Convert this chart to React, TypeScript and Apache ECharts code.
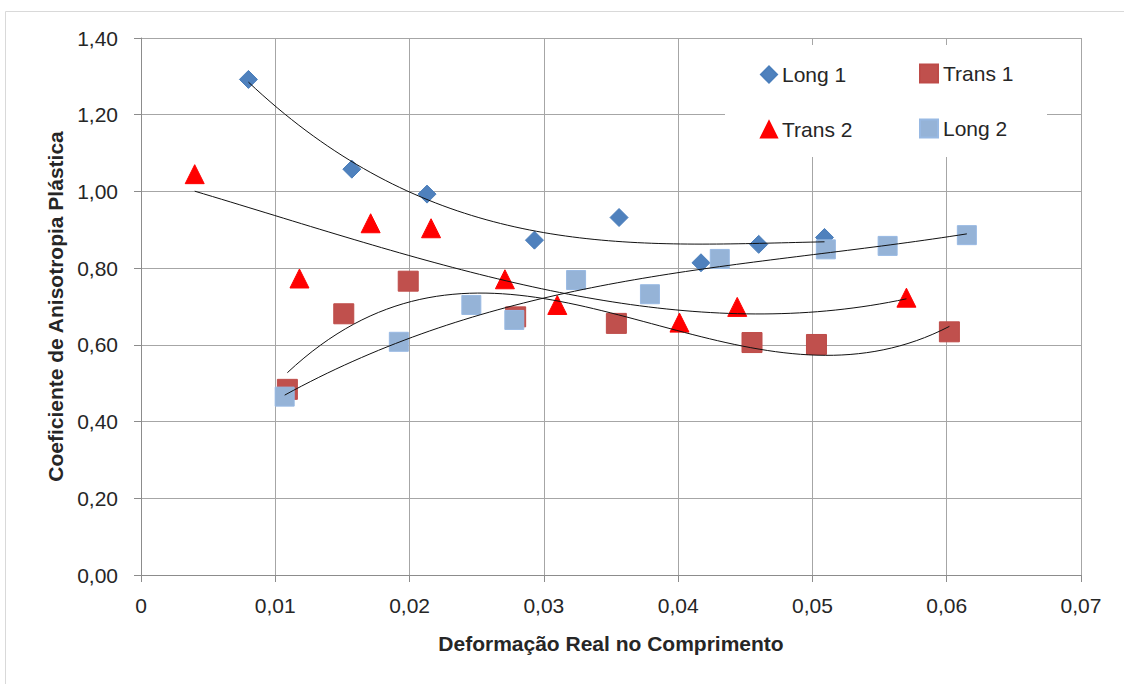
import React, { useEffect, useRef } from "react";
import * as echarts from "echarts";

// Measured points (strain, anisotropy coefficient)
const long1X = [0.008, 0.0157, 0.0213, 0.0293, 0.0356, 0.0417, 0.046, 0.0509];
const long1Y = [1.292, 1.058, 0.993, 0.873, 0.932, 0.814, 0.862, 0.88];
const trans1X = [0.0109, 0.0151, 0.0199, 0.0279, 0.0354, 0.0455, 0.0503, 0.0602];
const trans1Y = [0.484, 0.681, 0.766, 0.673, 0.656, 0.606, 0.601, 0.634];
const trans2X = [0.004, 0.0118, 0.0171, 0.0216, 0.0271, 0.031, 0.0401, 0.0444, 0.057];
const trans2Y = [1.045, 0.773, 0.917, 0.904, 0.771, 0.704, 0.658, 0.699, 0.723];
const long2X = [0.0107, 0.0192, 0.0246, 0.0278, 0.0324, 0.0379, 0.0431, 0.051, 0.0556, 0.0615];
const long2Y = [0.465, 0.608, 0.704, 0.665, 0.769, 0.732, 0.824, 0.849, 0.858, 0.886];

const seriesNames = ["Long 1", "Trans 1", "Trans 2", "Long 2"];
const xTicks = { min: 0, max: 0.07, step: 0.01 };
const yTicks = { min: 0, max: 1.4, step: 0.2 };

const FONT = "'Liberation Sans', Arial, sans-serif";
const TEXT = "#262626";

const pairs = (xs: number[], ys: number[]) => xs.map((x, i) => [x, ys[i]]);

// Least-squares polynomial (order 3) trend line, sampled over the data range
function trend(xs: number[], ys: number[], order = 3, samples = 80) {
  const s = 100; // rescale x for a well-conditioned system
  const n = order + 1;
  const A: number[][] = Array.from({ length: n }, () => new Array(n + 1).fill(0));
  xs.forEach((xr, k) => {
    const x = xr * s;
    for (let i = 0; i < n; i++) {
      for (let j = 0; j < n; j++) A[i][j] += Math.pow(x, i + j);
      A[i][n] += ys[k] * Math.pow(x, i);
    }
  });
  for (let c = 0; c < n; c++) {
    let p = c;
    for (let r = c + 1; r < n; r++) if (Math.abs(A[r][c]) > Math.abs(A[p][c])) p = r;
    [A[c], A[p]] = [A[p], A[c]];
    for (let r = 0; r < n; r++) {
      if (r === c) continue;
      const f = A[r][c] / A[c][c];
      for (let k = c; k <= n; k++) A[r][k] -= f * A[c][k];
    }
  }
  const coef = A.map((row, i) => row[n] / row[i]);
  const lo = Math.min(...xs);
  const hi = Math.max(...xs);
  const out: number[][] = [];
  for (let i = 0; i <= samples; i++) {
    const xr = lo + ((hi - lo) * i) / samples;
    const x = xr * s;
    let y = 0;
    for (let k = 0; k < n; k++) y += coef[k] * Math.pow(x, k);
    out.push([xr, y]);
  }
  return out;
}

const comma = (v: number, d: number) => v.toFixed(d).replace(".", ",");

export default function App() {
  const ref = useRef<HTMLDivElement>(null);

  useEffect(() => {
    if (!ref.current) return;
    const chart = echarts.init(ref.current, undefined, { renderer: "svg" });

    const scatter = (name: string, data: number[][], symbol: string, size: number, color: string, border: string) => ({
      name,
      type: "scatter",
      data,
      symbol,
      symbolSize: size,
      itemStyle: { color, borderColor: border, borderWidth: 1, opacity: 1 },
      z: 3,
    });
    const trendLine = (id: string, data: number[][]) => ({
      name: id,
      type: "line",
      data,
      showSymbol: false,
      symbol: "none",
      silent: true,
      lineStyle: { color: "#111", width: 1 },
      z: 4,
    });

    const legendAt = (name: string, icon: string, left: number, top: number, w: number, h: number) => ({
      data: [name],
      left,
      top,
      padding: 0,
      icon,
      itemWidth: w,
      itemHeight: h,
      textStyle: { fontFamily: FONT, fontSize: 21, color: TEXT },
      selectedMode: false,
    });

    chart.setOption({
      animation: false,
      backgroundColor: "#fff",
      grid: { left: 141, right: 43, top: 38, bottom: 109 },
      xAxis: {
        type: "value",
        min: xTicks.min,
        max: xTicks.max,
        interval: xTicks.step,
        name: "Deformação Real no Comprimento",
        nameLocation: "middle",
        nameGap: 58,
        nameTextStyle: { fontFamily: FONT, fontSize: 21, fontWeight: "bold", color: TEXT },
        axisLine: { show: true, lineStyle: { color: "#8c8c8c", width: 1 } },
        axisTick: { show: true, length: 7, lineStyle: { color: "#8c8c8c" } },
        axisLabel: {
          margin: 20,
          fontFamily: FONT,
          fontSize: 21,
          color: TEXT,
          formatter: (v: number) => (Math.abs(v) < 1e-9 ? "0" : comma(v, 2)),
        },
        splitLine: { show: true, lineStyle: { color: "#a6a6a6", width: 1 } },
      },
      yAxis: {
        type: "value",
        min: yTicks.min,
        max: yTicks.max,
        interval: yTicks.step,
        name: "Coeficiente de Anisotropia Plástica",
        nameLocation: "middle",
        nameGap: 74,
        nameTextStyle: { fontFamily: FONT, fontSize: 21, fontWeight: "bold", color: TEXT },
        axisLine: { show: true, lineStyle: { color: "#8c8c8c", width: 1 } },
        axisTick: { show: true, length: 7, lineStyle: { color: "#8c8c8c" } },
        axisLabel: {
          margin: 23,
          fontFamily: FONT,
          fontSize: 21,
          color: TEXT,
          formatter: (v: number) => comma(v, 2),
        },
        splitLine: { show: true, lineStyle: { color: "#a6a6a6", width: 1 } },
      },
      legend: [
        legendAt(seriesNames[0], "diamond", 760, 64, 16, 16),
        legendAt(seriesNames[1], "rect", 919, 63, 18, 18),
        legendAt(seriesNames[2], "triangle", 760, 119, 16, 16),
        legendAt(seriesNames[3], "rect", 919, 118, 18, 18),
      ],
      graphic: [
        {
          type: "rect",
          shape: { x: 5.5, y: 11.5, width: 1200, height: 800 },
          style: { fill: "none", stroke: "#d9d9d9", lineWidth: 1 },
          silent: true,
          z: 0,
        },
        {
          type: "rect",
          shape: { x: 725, y: 45, width: 322, height: 112 },
          style: { fill: "#fff" },
          silent: true,
          z: 1,
        },
      ],
      series: [
        scatter(seriesNames[0], pairs(long1X, long1Y), "diamond", 18, "#4f81bd", "#4a7ebb"),
        scatter(seriesNames[1], pairs(trans1X, trans1Y), "rect", 20, "#c0504d", "#be4b48"),
        scatter(seriesNames[2], pairs(trans2X, trans2Y), "triangle", 19, "#ff0000", "#ff0000"),
        scatter(seriesNames[3], pairs(long2X, long2Y), "rect", 19, "#95b3d7", "#98b9e3"),
        trendLine("trend-long1", trend(long1X, long1Y)),
        trendLine("trend-trans1", trend(trans1X, trans1Y)),
        trendLine("trend-trans2", trend(trans2X, trans2Y)),
        trendLine("trend-long2", trend(long2X, long2Y)),
      ],
    });

    return () => chart.dispose();
  }, []);

  return (
    <div
      ref={ref}
      style={{ position: "fixed", left: 0, top: 0, width: 1124, height: 684, background: "#fff" }}
    />
  );
}
